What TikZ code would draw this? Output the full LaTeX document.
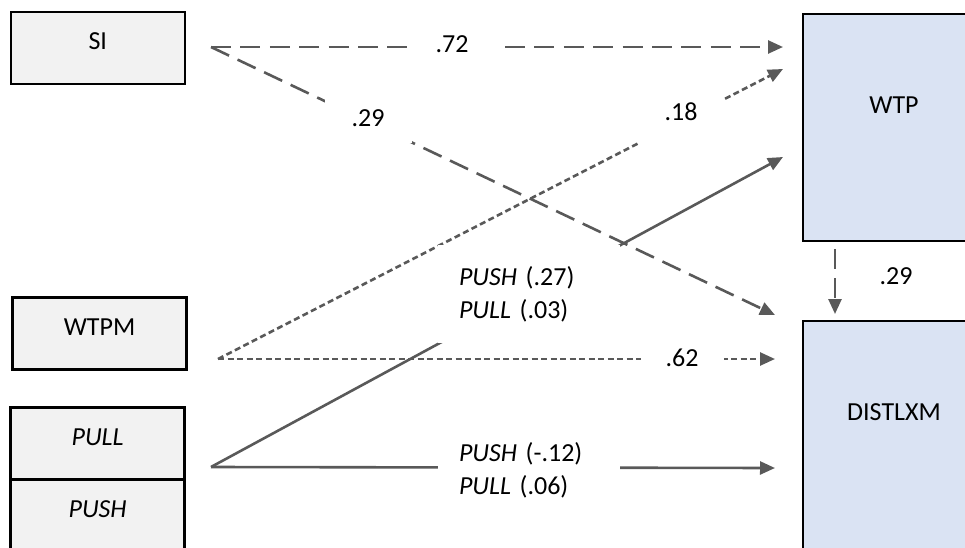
\documentclass[tikz,border=0pt]{standalone}
\usepackage{fontspec}
\setmainfont{Carlito}
\usetikzlibrary{arrows.meta, positioning}
\definecolor{boxgray}{HTML}{F2F2F2}
\definecolor{boxblue}{HTML}{DAE3F3}
\definecolor{linegray}{HTML}{595959}

\begin{document}
\begin{tikzpicture}[x=0.5pt, y=-0.5pt, >={Triangle[length=7.5pt, width=6.5pt]},
        font=\fontsize{13}{16.5}\selectfont,
        inbox/.style={draw=black, line width=1.2pt, fill=boxgray, outer sep=0pt, inner ysep=0pt,
            minimum width=87pt, text height=18.75pt, text depth=17.25pt},
        outbox/.style={draw=black, line width=1.2pt, fill=boxblue, outer sep=0pt, inner ysep=0pt,
            minimum width=91pt, text height=49.75pt, text depth=63.75pt},
        conn/.style={draw=linegray, line width=1.3pt, ->},
        longdash/.style={dash pattern=on 10pt off 4.7pt},
        shortdash/.style={dash pattern=on 3pt off 1.75pt},
        coef/.style={fill=white, inner sep=0pt},
        pair/.style={fill=white, inner xsep=10.5pt, inner ysep=0pt, text width=70pt, align=left}]
            \clip (0, 0) rectangle (965, 547);
            \node[inbox] (si) at (97.8, 48) {SI};
            \node[inbox] (wtpm) at (99.5, 333.5) {WTPM};
            \node[inbox] (pull) at (97.6, 443.5) {\itshape PULL};
            \node[inbox, below=0pt of pull] (push) {\itshape PUSH};
            \node[outbox] (wtp) at (894, 127.5) {WTP};
            \node[outbox, text depth=72pt] (distlxm) at (894, 442.75) {DISTLXM};
            \coordinate (si-out) at (211, 47);
            \coordinate (wtpm-out) at (218, 359);
            \coordinate (pp-out) at (211, 467);
            \coordinate (wtp-a) at (783, 47);
            \coordinate (wtp-b) at (783, 69);
            \coordinate (wtp-c) at (783, 157);
            \coordinate (dist-a) at (775, 315);
            \coordinate (dist-b) at (775, 359);
            \coordinate (dist-c) at (775, 468);
            \draw[conn, longdash] (si-out) -- (wtp-a);
            \draw[conn, longdash] (si-out) -- (dist-a);
            \draw[conn, shortdash] (wtpm-out) -- (wtp-b);
            \draw[conn, shortdash] (wtpm-out) -- (dist-b);
            \draw[conn] (pp-out) -- (wtp-c);
            \draw[conn] (pp-out) -- (dist-c);
            \draw[conn, longdash, shorten <=4pt, shorten >=3.5pt] ([xshift=-29.5pt]wtp.south) -- ([xshift=-29.5pt]distlxm.north);
            \node[coef, minimum width=43.5pt, minimum height=15pt] (c72) at (452, 44) {.72};
            \node[coef, minimum width=43.5pt, minimum height=25pt] (c29a) at (368, 118) {.29};
            \node[coef, minimum width=42.5pt, minimum height=32pt] (c18) at (681, 112) {.18};
            \node[coef, minimum width=41.5pt, minimum height=15pt] (c62) at (682, 358) {.62};
            \node[pair, minimum height=49pt] (cwtp) at (529, 294) {{\itshape PUSH} (.27)\\{\itshape PULL} (.03)};
            \node[pair, minimum height=34pt] (cdist) at (529, 470) {{\itshape PUSH} (-.12)\\{\itshape PULL} (.06)};
            \node (c29b) at (896, 276) {.29};
        \end{tikzpicture}
\end{document}
